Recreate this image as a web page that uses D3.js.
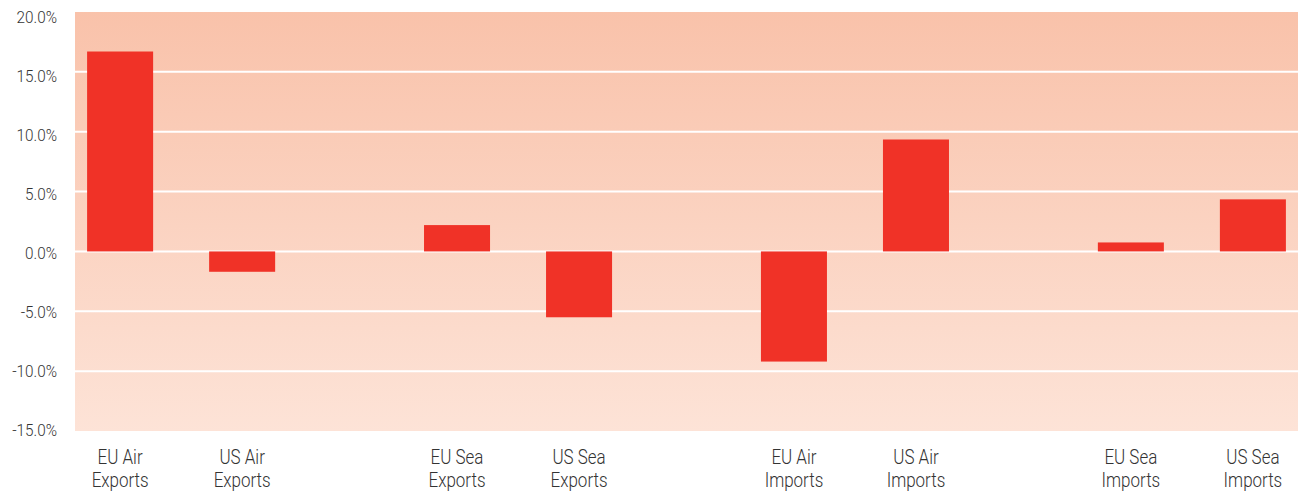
<!DOCTYPE html>
<html>
<head>
<meta charset="utf-8">
<script src="https://cdn.jsdelivr.net/npm/d3@7"></script>
<style>
  body { margin: 0; background: #fff; }
</style>
</head>
<body>
<script>
// chart data
var groups = ["Air Exports", "Sea Exports", "Air Imports", "Sea Imports"];
var regions = ["EU", "US"];
var euValues = [16.7, 2.2, -9.2, 0.75];
var usValues = [-1.7, -5.5, 9.35, 4.35];
var yTicks = [20, 15, 10, 5, 0, -5, -10, -15];

function drawChart(){
    var width = 1298,
        height = 492;
    var margin = {top: 12, right: 0, bottom: 61, left: 75};

    var svg = d3.select("body")
        .append("svg")
        .attr("width", width)
        .attr("height", height);

    //flatten to one row per bar
    var bars = [];
    groups.forEach(function(g, i){
        bars.push({group: g, region: "EU", value: euValues[i]});
        bars.push({group: g, region: "US", value: usValues[i]});
    });

    var x0 = d3.scalePoint()
        .domain(groups)
        .range([margin.left, width - margin.right])
        .padding(0.315);

    var step = x0.step();
    var x1 = d3.scaleBand()
        .domain(regions)
        .range([-step / 2, step / 2])
        .paddingInner(0.459)
        .paddingOuter(0.61);

    var y = d3.scaleLinear()
        .domain([-15, 20])
        .range([height - margin.bottom, margin.top]);

    //tick labels sit on a slightly tighter scale than the grid
    var yLabel = y.copy().range([430, 17]);

    //background gradient
    var defs = svg.append("defs");
    var grad = defs.append("linearGradient")
        .attr("id", "bg")
        .attr("x1", 0).attr("y1", 0)
        .attr("x2", 0).attr("y2", 1);
    grad.append("stop").attr("offset", "0%").attr("stop-color", "#f9c2aa");
    grad.append("stop").attr("offset", "100%").attr("stop-color", "#fde3d7");

    svg.append("rect")
        .attr("x", margin.left)
        .attr("y", y(20))
        .attr("width", width - margin.left - margin.right)
        .attr("height", y(-15) - y(20))
        .attr("fill", "url(#bg)");

    //grid lines
    svg.selectAll(".grid")
        .data(yTicks.filter(function(d){ return d < 20 && d > -15; }))
        .enter()
        .append("line")
        .attr("class", "grid")
        .attr("x1", margin.left)
        .attr("x2", width - margin.right)
        .attr("y1", function(d){ return y(d); })
        .attr("y2", function(d){ return y(d); })
        .attr("stroke", "#fff")
        .attr("stroke-width", 2);

    //bars
    svg.selectAll(".bar")
        .data(bars)
        .enter()
        .append("rect")
        .attr("class", "bar")
        .attr("x", function(d){ return x0(d.group) + x1(d.region); })
        .attr("width", x1.bandwidth())
        .attr("y", function(d){ return y(Math.max(0, d.value)); })
        .attr("height", function(d){ return Math.abs(y(d.value) - y(0)); })
        .attr("fill", "#f03227");

    //y axis
    var yAxis = svg.append("g")
        .attr("transform", "translate(" + (margin.left - 18) + ",0)")
        .call(d3.axisLeft(yLabel).tickValues(yTicks).tickSize(0).tickFormat(function(d){ return d.toFixed(1) + "%"; }));
    yAxis.select(".domain").remove();
    yAxis.selectAll(".tick text")
        .attr("x", 0)
        .attr("transform", "scale(0.9,1)")
        .style("font-family", "Roboto, sans-serif")
        .style("font-weight", 300)
        .style("font-size", "17px")
        .style("fill", "#333");

    //category labels, two lines each
    var labelX = function(d){ return x0(d.group) + x1(d.region) + x1.bandwidth() / 2; };
    var lines = [
        {y: 464, text: function(d){ return d.region + " " + d.group.split(" ")[0]; }},
        {y: 487, text: function(d){ return d.group.split(" ")[1]; }}
    ];
    lines.forEach(function(line, i){
        svg.selectAll(".label" + i)
            .data(bars)
            .enter()
            .append("text")
            .attr("class", "label" + i)
            .attr("text-anchor", "middle")
            .attr("transform", function(d){
                return "translate(" + labelX(d) + "," + line.y + ") scale(0.87,1)";
            })
            .style("font-family", "Roboto, sans-serif")
            .style("font-weight", 300)
            .style("font-size", "19.5px")
            .style("fill", "#333")
            .text(line.text);
    });
}

window.onload = drawChart();
</script>
</body>
</html>
